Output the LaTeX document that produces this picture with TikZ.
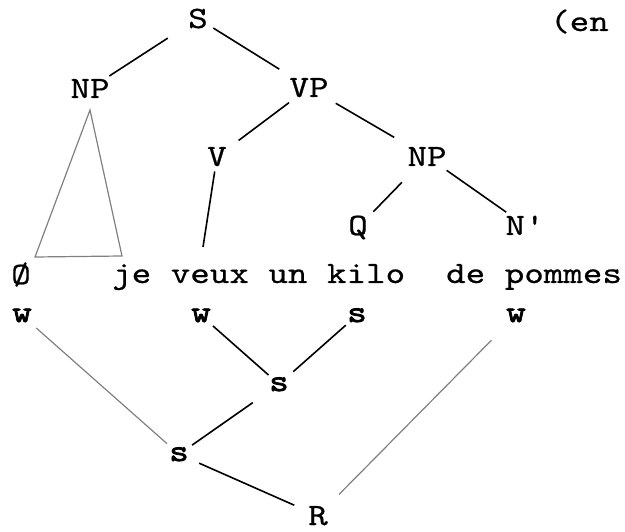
\documentclass[tikz,border=0pt]{standalone}
\usepackage{fontspec}
\newfontfamily\twfont{lmmono10-regular.otf}[FakeStretch=1.2, FakeBold=0.6]
\newfontfamily\twboldfont{lmmono10-regular.otf}[FakeStretch=1.2, FakeBold=2.5]
\tikzset{gap/.style 2 args={shorten <=#1pt, shorten >=#2pt}}
\begin{document}
\begin{tikzpicture}[x=1pt,y=-1pt,
    every node/.style={font=\twfont\fontsize{31}{36}\selectfont, inner sep=1pt, anchor=base},
    metre/.style={font=\twboldfont\fontsize{31}{36}\selectfont},
    branch/.style={line width=1.6pt},
    grid/.style={gray, line width=1.2pt}]
  \useasboundingbox (0,0) rectangle (625,532);
  % syntactic tree
  \node (s) at (198,28) {S};
  \node[anchor=base west] (en) at (549,31) {(en};
  \node (np) at (90,98) {NP};
  \node (vp) at (309,97) {VP};
  \node (v) at (217,166) {V};
  \node (np2) at (427,166) {NP};
  \node (q) at (358,235) {Q};
  \node (nbar) at (525,235) {N'};
  % the words
  \node (null) at (21,284) {Ø};
  \node[anchor=base west] (je) at (111,283) {je veux un kilo};
  \node[anchor=base west] (de) at (445,283) {de pommes};
  % metrical tree
  \node[metre] (w1) at (22,322) {w};
  \node[metre] (w2) at (201,322) {w};
  \node[metre] (s1) at (357,322) {s};
  \node[metre] (w3) at (516,322) {w};
  \node[metre] (s2) at (279,391) {s};
  \node[metre] (s3) at (179,461) {s};
  \node (r) at (318,525) {R};
  \coordinate (vfoot) at (203,247);
  \coordinate (apex) at (90,110);
  \coordinate (bl) at (35,257);
  \coordinate (br) at (122,256);

  \draw[branch, gap={36}{23}] (s.center) -- (np.center);
  \draw[branch, gap={18}{35}] (s.center) -- (vp.center);
  \draw[branch, gap={25}{27}] (vp.center) -- (v.center);
  \draw[branch, gap={31}{38}] (vp.center) -- (np2.center);
  \draw[branch, gap={36}{22}] (np2.center) -- (q.center);
  \draw[branch, gap={24}{23}] (np2.center) -- (nbar.center);
  \draw[branch, gap={15}{0}] (v.center) -- (vfoot);
  \draw[grid] (apex) -- (bl) -- (br) -- cycle;

  \draw[grid, gap={19}{16}] (w1.center) -- (s3.center);
  \draw[branch, gap={16}{14}] (w2.center) -- (s2.center);
  \draw[branch, gap={15}{19}] (s1.center) -- (s2.center);
  \draw[branch, gap={32}{16}] (s2.center) -- (s3.center);
  \draw[branch, gap={22}{26}] (s3.center) -- (r.center);
  \draw[grid, gap={35}{30}] (w3.center) -- (r.center);
\end{tikzpicture}
\end{document}
